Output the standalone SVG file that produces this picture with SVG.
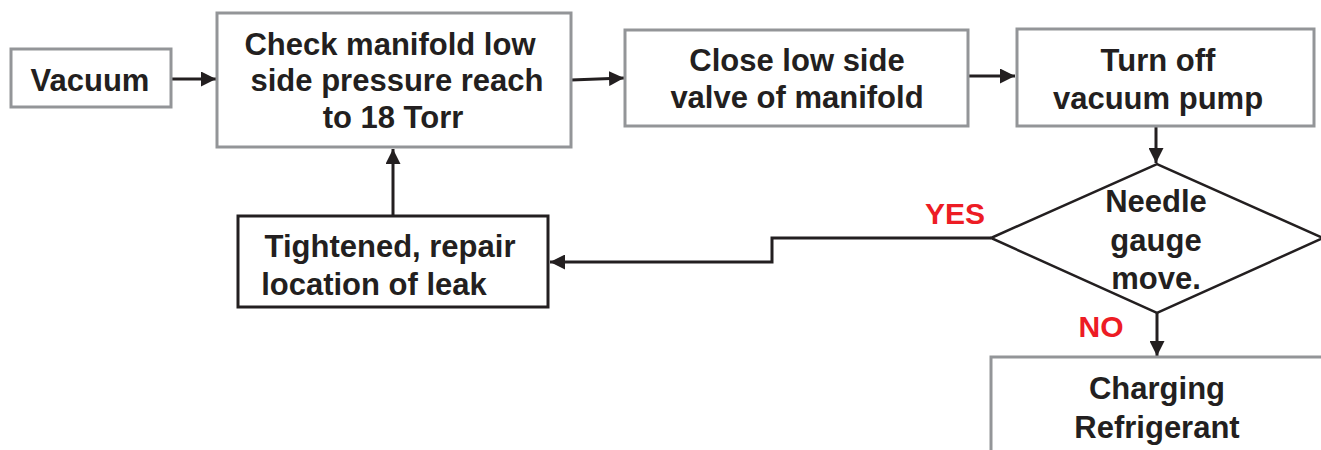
<svg xmlns="http://www.w3.org/2000/svg" width="1321" height="450" viewBox="0 0 1321 450">
<style>
.box{fill:#fff;stroke:#939598;stroke-width:3}
.bbox{fill:#fff;stroke:#231f20;stroke-width:3}
.t{font-family:"Liberation Sans",Arial,sans-serif;font-weight:bold;font-size:31px;fill:#231f20;text-anchor:middle}
.lab{font-family:"Liberation Sans",Arial,sans-serif;font-weight:bold;font-size:30px;fill:#ed1c24;text-anchor:middle}
.c{fill:none;stroke:#231f20;stroke-width:3}
</style>
<defs>
<marker id="ah" viewBox="0 0 10 10" refX="10" refY="5" markerWidth="5" markerHeight="5" markerUnits="strokeWidth" orient="auto">
<path d="M0,0 L10,5 L0,10 z" fill="#231f20"/>
</marker>
</defs>
<rect width="1321" height="450" fill="#fff"/>
<g id="connectors">
<line class="c" x1="171" y1="79" x2="216" y2="79" marker-end="url(#ah)"/>
<line class="c" x1="571" y1="80" x2="624" y2="78" marker-end="url(#ah)"/>
<line class="c" x1="969" y1="76" x2="1015" y2="76" marker-end="url(#ah)"/>
<line class="c" x1="1156" y1="126" x2="1156" y2="163" marker-end="url(#ah)"/>
<line class="c" x1="1157" y1="313" x2="1157" y2="356" marker-end="url(#ah)"/>
<polyline class="c" points="991,238 772,238 772,262 550,262" marker-end="url(#ah)"/>
<line class="c" x1="393" y1="216" x2="393" y2="149" marker-end="url(#ah)"/>
<text class="lab" x="955" y="224">YES</text>
<text class="lab" x="1101" y="337">NO</text>
</g>
<g id="vacuum">
<rect class="box" x="11" y="49" width="160" height="58"/>
<text class="t" x="90" y="91">Vacuum</text>
</g>
<g id="check">
<rect class="box" x="217" y="13" width="354" height="134"/>
<text class="t" x="390" y="55">Check manifold low</text>
<text class="t" x="397" y="91">side pressure reach</text>
<text class="t" x="393" y="128">to 18 Torr</text>
</g>
<g id="close">
<rect class="box" x="625" y="30" width="343" height="96"/>
<text class="t" x="797" y="71">Close low side</text>
<text class="t" x="797" y="108">valve of manifold</text>
</g>
<g id="turnoff">
<rect class="box" x="1017" y="29" width="297" height="97"/>
<text class="t" x="1158" y="71">Turn off</text>
<text class="t" x="1158" y="109">vacuum pump</text>
</g>
<g id="tightened">
<rect class="bbox" x="238" y="216" width="310" height="91"/>
<text class="t" x="390" y="257">Tightened, repair</text>
<text class="t" x="374" y="295">location of leak</text>
</g>
<g id="needle">
<polygon points="991,238 1157,164 1323,238 1157,313" fill="#fff" stroke="#231f20" stroke-width="2.5"/>
<text class="t" x="1156" y="212">Needle</text>
<text class="t" x="1156" y="251">gauge</text>
<text class="t" x="1156" y="289">move.</text>
</g>
<g id="charging">
<rect class="box" x="991" y="357" width="340" height="100"/>
<text class="t" x="1157" y="399">Charging</text>
<text class="t" x="1157" y="438">Refrigerant</text>
</g>
</svg>
